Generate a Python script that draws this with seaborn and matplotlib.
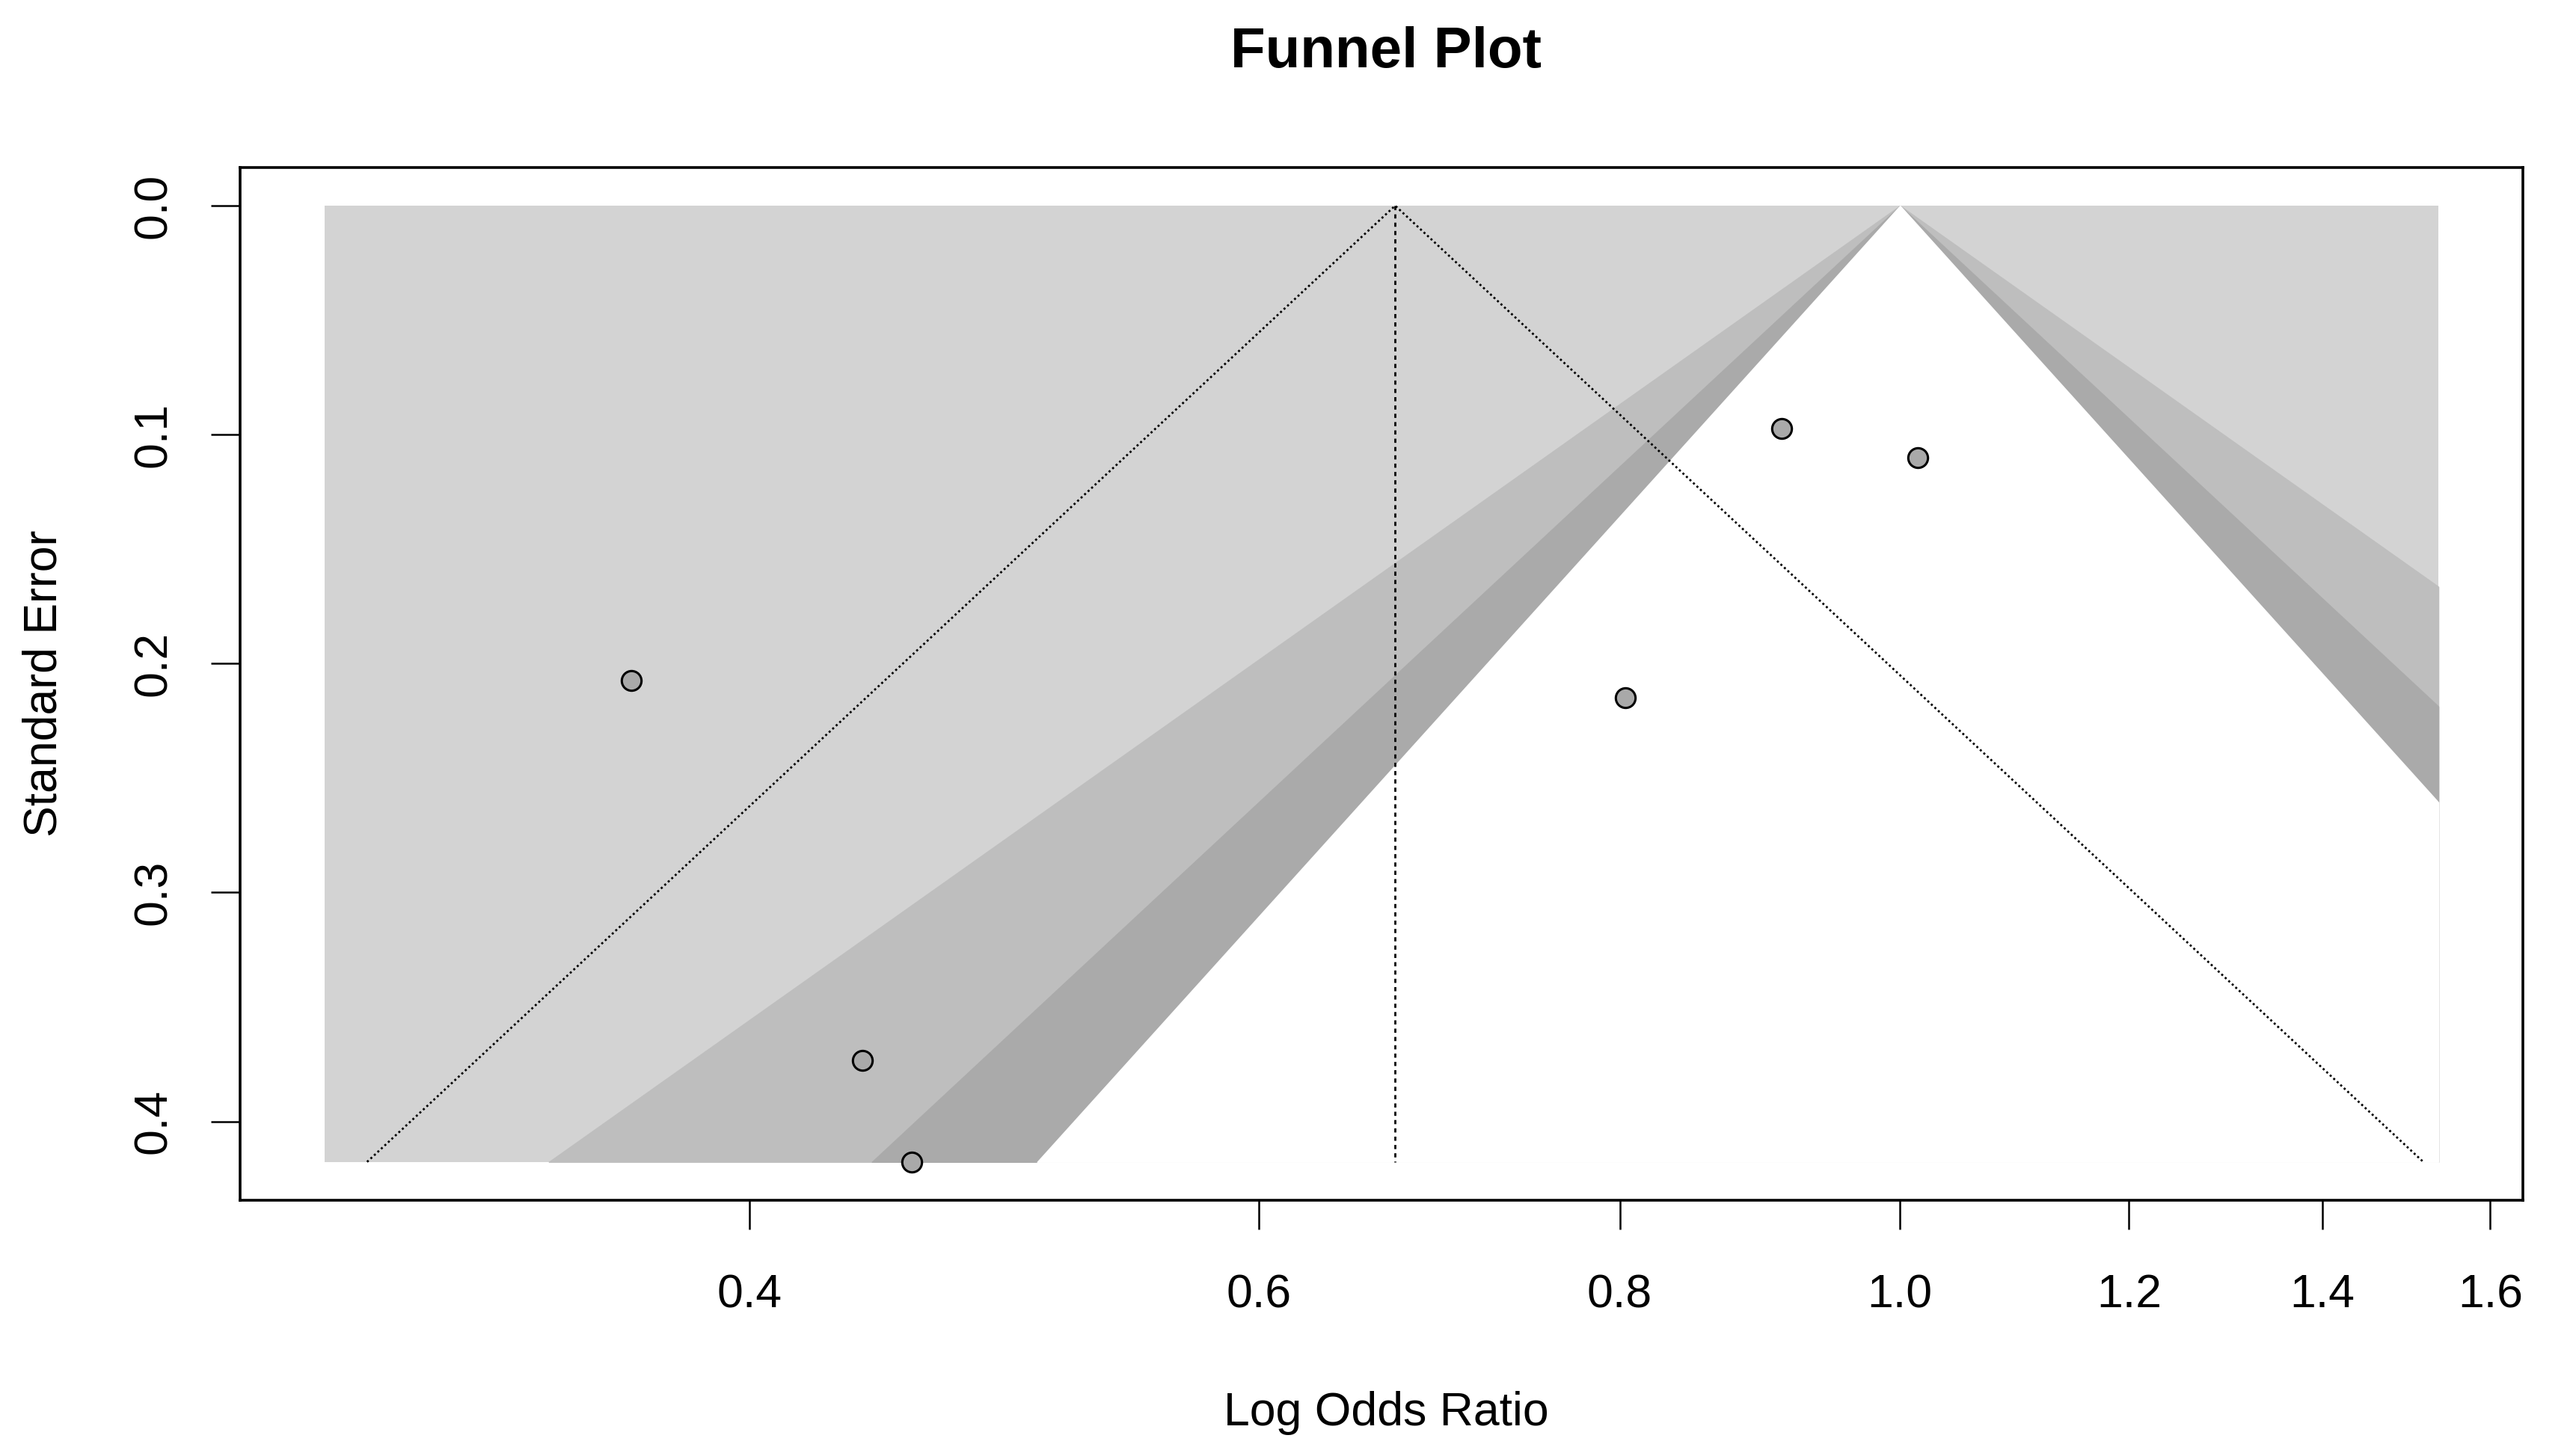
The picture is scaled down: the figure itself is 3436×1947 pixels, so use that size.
import numpy as np
import pandas as pd
import matplotlib
matplotlib.use("Agg")
import matplotlib.pyplot as plt
import seaborn as sns

# ---- data (log odds ratio, standard error) ----
study = ["S1", "S2", "S3", "S4", "S5", "S6"]
log_or = [-1.010, -0.826, -0.787, -0.2185, -0.094, 0.0143]
std_err = [0.2074, 0.3734, 0.4177, 0.2149, 0.0973, 0.1100]
ref_estimate = -0.402          # pooled estimate (log scale)
contour_center = 0.0           # contours centered at OR = 1
contour_z = [2.5758, 1.9600, 1.6449]   # 99%, 95%, 90%
contour_colors = ["#BEBEBE", "#AAAAAA", "#FFFFFF"]
back_color = "#D3D3D3"
data_xrange = [-1.2545, 0.4287]   # horizontal extent of the shaded area
xtick_or = [0.4, 0.6, 0.8, 1.0, 1.2, 1.4, 1.6]
ytick_se = [0.0, 0.1, 0.2, 0.3, 0.4]

df = pd.DataFrame({"study": study, "yi": log_or, "sei": std_err})

sns.set_theme(style="white")
plt.rcParams["font.family"] = ["Liberation Sans", "DejaVu Sans"]

fig = plt.figure(figsize=(3436 / 200, 1947 / 200), dpi=200)
ax = fig.add_axes([0.0934, 0.1757, 0.9817 - 0.0934, 0.8850 - 0.1757])

se_max = df["sei"].max()
x0, x1 = data_xrange
se_grid = np.linspace(0, se_max, 400)

# background
ax.fill_between([x0, x1], [0, 0], [se_max, se_max], color=back_color, lw=0, zorder=1)
# contour regions
for z, col in zip(contour_z, contour_colors):
    left = np.clip(contour_center - z * se_grid, x0, x1)
    right = np.clip(contour_center + z * se_grid, x0, x1)
    ax.fill_betweenx(se_grid, left, right, facecolor=col, edgecolor=col,
                     lw=0.5, zorder=2)

# reference line and pseudo-confidence funnel
lw_dot = 1.0
ax.plot([ref_estimate, ref_estimate], [0, se_max], color="black", lw=lw_dot,
        linestyle=(0, (2, 2)), zorder=3)
ax.plot([ref_estimate - 1.96 * se_max, ref_estimate, ref_estimate + 1.96 * se_max],
        [se_max, 0, se_max], color="black", lw=lw_dot, linestyle=(0, (1, 1.3)), zorder=3)

# study points
sns.scatterplot(data=df, x="yi", y="sei", ax=ax, s=90, color="#A9A9A9",
                edgecolor="black", linewidth=1.1, zorder=4, legend=False)

# axes limits (4% padding like R)
xr = x1 - x0
ax.set_xlim(x0 - 0.04 * xr, x1 + 0.04 * xr)
ax.set_ylim(se_max + 0.04 * se_max, -0.04 * se_max)

ax.set_xticks(np.log(xtick_or))
ax.set_xticklabels([f"{v:.1f}" for v in xtick_or])
ax.set_yticks(ytick_se)
ax.set_yticklabels([f"{v:.1f}" for v in ytick_se])

for s in ax.spines.values():
    s.set_visible(True)
    s.set_color("black")
    s.set_linewidth(1.3)

ax.tick_params(axis="both", direction="out", length=14, width=0.9, color="black",
               labelsize=22.5, labelcolor="black", bottom=True, left=True)
ax.tick_params(axis="x", pad=21)
ax.tick_params(axis="y", pad=17, labelrotation=90)
for lab in ax.get_yticklabels():
    lab.set_va("center")

ax.set_xlabel("")
ax.set_ylabel("")
fig.text(0.5393, 0.9638, "Funnel Plot", ha="center", va="center",
         fontsize=27.5, fontweight="bold", color="black")
fig.text(0.5393, 0.0294, "Log Odds Ratio", ha="center", va="center",
         fontsize=22.5, color="black")
fig.text(0.0173, 0.5306, "Standard Error", ha="center", va="center",
         rotation=90, fontsize=22.5, color="black")

fig.savefig("out.png", dpi=200, facecolor="white")
